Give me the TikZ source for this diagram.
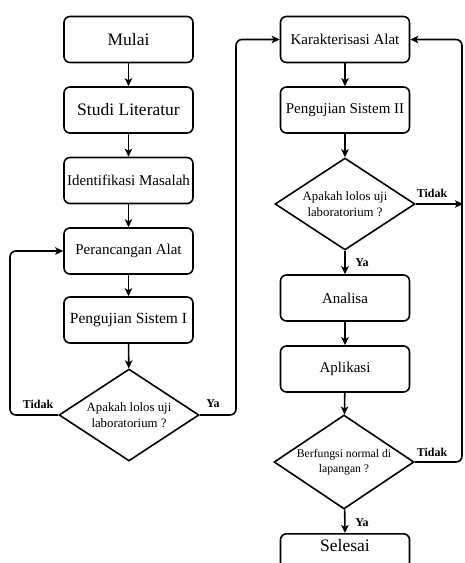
\documentclass[tikz,border=0pt]{standalone}
\usepackage{fontspec}
\setmainfont{Liberation Serif}
\usetikzlibrary{shapes.geometric,arrows.meta}
\begin{document}
\begin{tikzpicture}[x=1pt,y=-1pt,
  box/.style={draw,line width=1.6pt,rounded corners=6pt,minimum width=129pt,minimum height=46pt,inner sep=0pt,font=\fontsize{15}{17}\selectfont},
  bigbox/.style={box,font=\fontsize{17.5}{19}\selectfont},
  dec/.style={draw,line width=1.6pt,diamond,shape aspect=1.52,inner sep=0pt,minimum width=140pt,minimum height=92pt,align=center,font=\fontsize{12.8}{16}\selectfont},
  arr/.style={line width=1.6pt,-{Stealth[length=8pt,width=7.5pt,inset=2pt]}},
  lbl/.style={font=\bfseries\fontsize{12}{14}\selectfont,inner sep=0pt}]
\useasboundingbox (0,0) rectangle (465,563);
\clip (0,0) rectangle (465,563);
\fill[white] (0,0) rectangle (465,563);
% left column
\node[bigbox] (mulai) at (128.5,39.5) {Mulai};
\node[bigbox] (studi) at (128.5,110) {Studi Literatur};
\node[box] (ident) at (128.5,180.5) {Identifikasi Masalah};
\node[box] (peranc) at (128.5,251) {Perancangan Alat};
\node[box,font=\fontsize{15.5}{17}\selectfont] (peng1) at (128.5,320) {Pengujian Sistem I};
\node[dec] (d1) at (129,415) {Apakah lolos uji\\laboratorium ?};
% right column
\node[box] (kar) at (345,39.5) {Karakterisasi Alat};
\node[box] (peng2) at (345,110) {Pengujian Sistem II};
\node[dec] (d2) at (345,204) {Apakah lolos uji\\laboratorium ?};
\node[box] (anal) at (345,298) {Analisa};
\node[box] (apl) at (345,369) {Aplikasi};
\node[dec,minimum height=94pt,font=\fontsize{11.7}{15}\selectfont] (d3) at (344,462) {Berfungsi normal di\\lapangan ?};
\node[bigbox,anchor=north,text height=18pt,text depth=28pt] (sel) at (345,533) {Selesai};
% helper coordinates
\coordinate (lx) at (10,0);
\coordinate (rx) at (236,0);
\coordinate (fx) at (463,0);
\coordinate (fx2) at (462,0);
% arrows
\draw[arr] (mulai) -- (studi);
\draw[arr] (studi) -- (ident);
\draw[arr] (ident) -- (peranc);
\draw[arr] (peranc) -- (peng1);
\draw[arr] (peng1) -- (d1);
\draw[arr,rounded corners=6pt] (d1.west) -- (d1.west -| lx) |- (peranc.west);
\draw[arr,rounded corners=6pt] (d1.east) -- (d1.east -| rx) |- (kar.west);
\draw[arr] (kar) -- (peng2);
\draw[arr] (peng2) -- (d2);
\draw[arr] (d2) -- (anal);
\draw[arr] (d2.east) -- (d2.east -| fx);
\draw[arr] (anal) -- (apl);
\draw[arr] (apl) -- (d3);
\draw[arr] (d3) -- (sel.north);
\draw[arr,rounded corners=6pt] (d3.east) -- (d3.east -| fx2) |- (kar.east);
% labels
\node[lbl] (t1) at (38,404) {Tidak};
\node[lbl] (y1) at (213,404) {Ya};
\node[lbl] (t2) at (432,193) {Tidak};
\node[lbl] (y2) at (362,263) {Ya};
\node[lbl] (t3) at (432,452) {Tidak};
\node[lbl] (y3) at (362,523) {Ya};
\end{tikzpicture}
\end{document}
